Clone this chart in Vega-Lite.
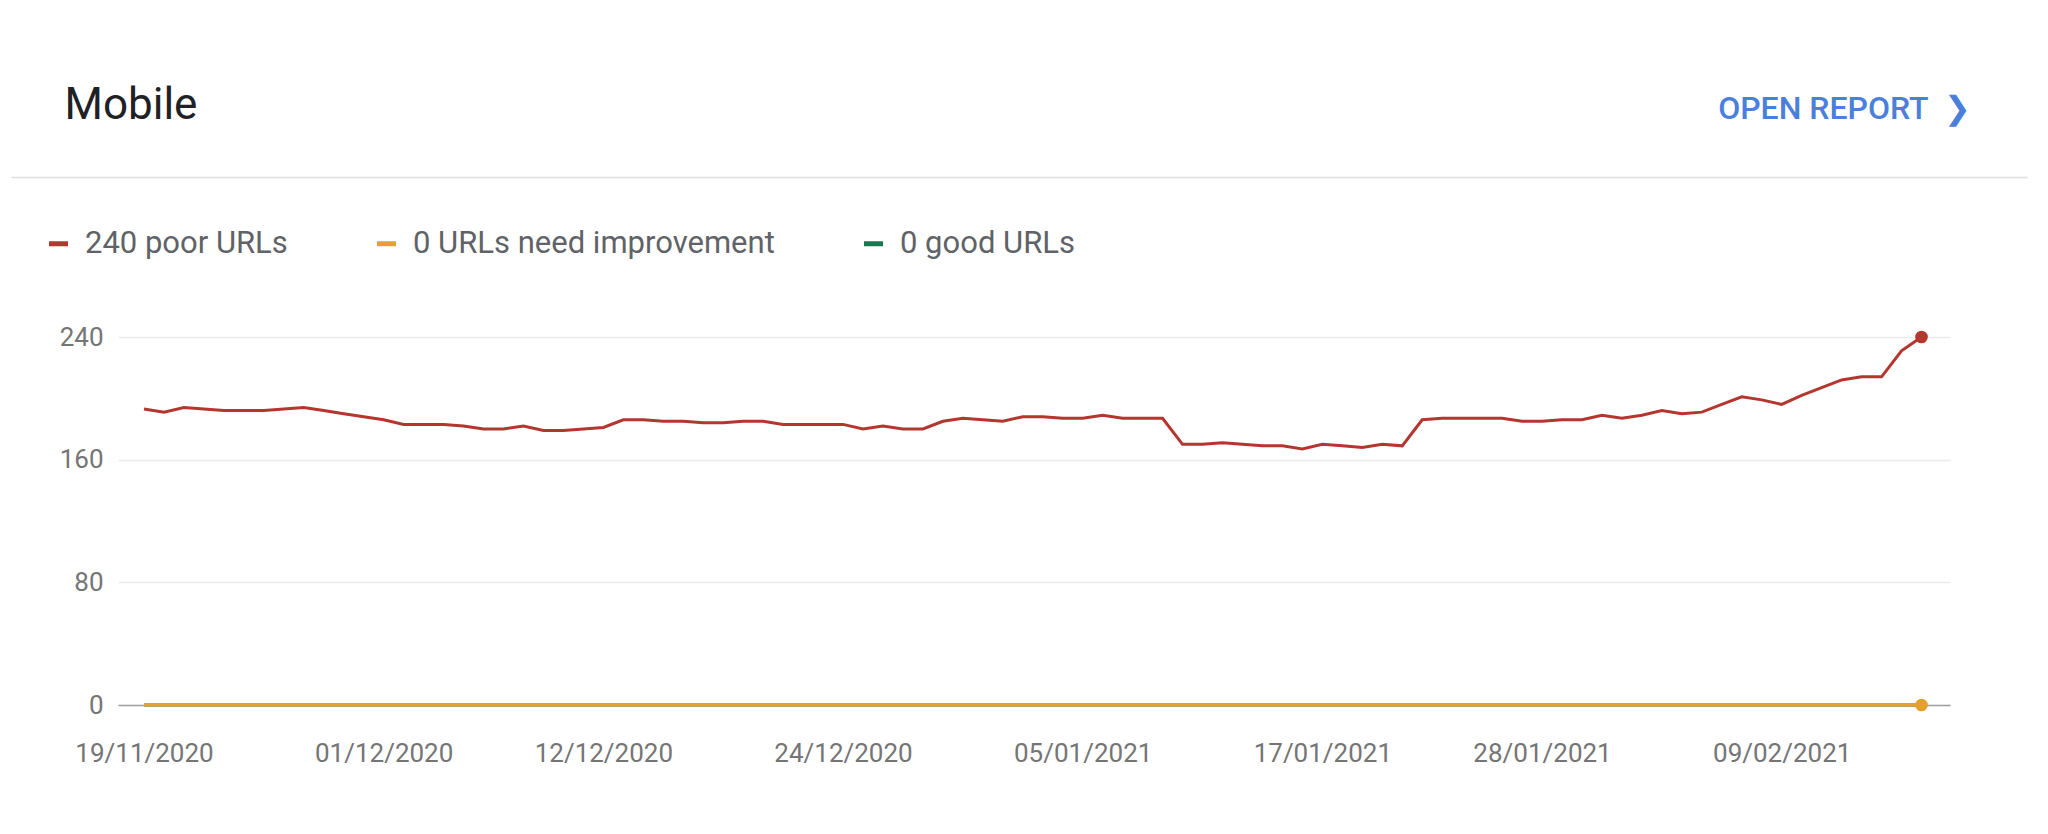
{
  "$schema": "https://vega.github.io/schema/vega-lite/v6.json",
  "background": "#ffffff",
  "padding": {"left": 43, "top": 83, "right": 0, "bottom": 20},
  "config": {"view": {"stroke": null}, "font": "Roboto"},
  "columns": 1,
  "align": "none",
  "spacing": 144,
  "concat": [
    {
      "width": 1909,
      "height": 1,
      "data": {"values": [{"a": 0, "b": 0}]},
      "mark": {"type": "point", "opacity": 0},
      "encoding": {
        "x": {
          "field": "a", "type": "quantitative",
          "scale": {"range": [-107, 1909]},
          "axis": {
            "orient": "bottom", "domain": true, "domainColor": "#e0e0e0", "domainWidth": 1.5,
            "ticks": false, "labels": false, "grid": false, "minExtent": 0,
            "title": "OPEN REPORT\u00a0\u00a0\u276f", "titleX": 1853, "titleY": -59,
            "titleAlign": "right", "titleBaseline": "alphabetic", "titleFontSize": 32,
            "titleFontWeight": 500, "titleColor": "#4a7fdc", "titleFont": "Roboto"
          }
        },
        "y": {
          "field": "b", "type": "quantitative",
          "axis": {
            "domain": false, "ticks": false, "labels": false, "grid": false, "minExtent": 0,
            "title": "Mobile", "titleAngle": 0, "titleX": -54, "titleY": -58,
            "titleAlign": "left", "titleBaseline": "alphabetic", "titleFontSize": 44,
            "titleFontWeight": 400, "titleColor": "#202124", "titleFont": "Roboto"
          }
        }
      }
    },
    {
      "width": 1832,
      "height": 368,
      "data": {"values": [
        {"date": "2020-11-19", "poor": 193, "needs_improvement": 0, "good": 0},
        {"date": "2020-11-20", "poor": 191, "needs_improvement": 0, "good": 0},
        {"date": "2020-11-21", "poor": 194, "needs_improvement": 0, "good": 0},
        {"date": "2020-11-22", "poor": 193, "needs_improvement": 0, "good": 0},
        {"date": "2020-11-23", "poor": 192, "needs_improvement": 0, "good": 0},
        {"date": "2020-11-24", "poor": 192, "needs_improvement": 0, "good": 0},
        {"date": "2020-11-25", "poor": 192, "needs_improvement": 0, "good": 0},
        {"date": "2020-11-26", "poor": 193, "needs_improvement": 0, "good": 0},
        {"date": "2020-11-27", "poor": 194, "needs_improvement": 0, "good": 0},
        {"date": "2020-11-28", "poor": 192, "needs_improvement": 0, "good": 0},
        {"date": "2020-11-29", "poor": 190, "needs_improvement": 0, "good": 0},
        {"date": "2020-11-30", "poor": 188, "needs_improvement": 0, "good": 0},
        {"date": "2020-12-01", "poor": 186, "needs_improvement": 0, "good": 0},
        {"date": "2020-12-02", "poor": 183, "needs_improvement": 0, "good": 0},
        {"date": "2020-12-03", "poor": 183, "needs_improvement": 0, "good": 0},
        {"date": "2020-12-04", "poor": 183, "needs_improvement": 0, "good": 0},
        {"date": "2020-12-05", "poor": 182, "needs_improvement": 0, "good": 0},
        {"date": "2020-12-06", "poor": 180, "needs_improvement": 0, "good": 0},
        {"date": "2020-12-07", "poor": 180, "needs_improvement": 0, "good": 0},
        {"date": "2020-12-08", "poor": 182, "needs_improvement": 0, "good": 0},
        {"date": "2020-12-09", "poor": 179, "needs_improvement": 0, "good": 0},
        {"date": "2020-12-10", "poor": 179, "needs_improvement": 0, "good": 0},
        {"date": "2020-12-11", "poor": 180, "needs_improvement": 0, "good": 0},
        {"date": "2020-12-12", "poor": 181, "needs_improvement": 0, "good": 0},
        {"date": "2020-12-13", "poor": 186, "needs_improvement": 0, "good": 0},
        {"date": "2020-12-14", "poor": 186, "needs_improvement": 0, "good": 0},
        {"date": "2020-12-15", "poor": 185, "needs_improvement": 0, "good": 0},
        {"date": "2020-12-16", "poor": 185, "needs_improvement": 0, "good": 0},
        {"date": "2020-12-17", "poor": 184, "needs_improvement": 0, "good": 0},
        {"date": "2020-12-18", "poor": 184, "needs_improvement": 0, "good": 0},
        {"date": "2020-12-19", "poor": 185, "needs_improvement": 0, "good": 0},
        {"date": "2020-12-20", "poor": 185, "needs_improvement": 0, "good": 0},
        {"date": "2020-12-21", "poor": 183, "needs_improvement": 0, "good": 0},
        {"date": "2020-12-22", "poor": 183, "needs_improvement": 0, "good": 0},
        {"date": "2020-12-23", "poor": 183, "needs_improvement": 0, "good": 0},
        {"date": "2020-12-24", "poor": 183, "needs_improvement": 0, "good": 0},
        {"date": "2020-12-25", "poor": 180, "needs_improvement": 0, "good": 0},
        {"date": "2020-12-26", "poor": 182, "needs_improvement": 0, "good": 0},
        {"date": "2020-12-27", "poor": 180, "needs_improvement": 0, "good": 0},
        {"date": "2020-12-28", "poor": 180, "needs_improvement": 0, "good": 0},
        {"date": "2020-12-29", "poor": 185, "needs_improvement": 0, "good": 0},
        {"date": "2020-12-30", "poor": 187, "needs_improvement": 0, "good": 0},
        {"date": "2020-12-31", "poor": 186, "needs_improvement": 0, "good": 0},
        {"date": "2021-01-01", "poor": 185, "needs_improvement": 0, "good": 0},
        {"date": "2021-01-02", "poor": 188, "needs_improvement": 0, "good": 0},
        {"date": "2021-01-03", "poor": 188, "needs_improvement": 0, "good": 0},
        {"date": "2021-01-04", "poor": 187, "needs_improvement": 0, "good": 0},
        {"date": "2021-01-05", "poor": 187, "needs_improvement": 0, "good": 0},
        {"date": "2021-01-06", "poor": 189, "needs_improvement": 0, "good": 0},
        {"date": "2021-01-07", "poor": 187, "needs_improvement": 0, "good": 0},
        {"date": "2021-01-08", "poor": 187, "needs_improvement": 0, "good": 0},
        {"date": "2021-01-09", "poor": 187, "needs_improvement": 0, "good": 0},
        {"date": "2021-01-10", "poor": 170, "needs_improvement": 0, "good": 0},
        {"date": "2021-01-11", "poor": 170, "needs_improvement": 0, "good": 0},
        {"date": "2021-01-12", "poor": 171, "needs_improvement": 0, "good": 0},
        {"date": "2021-01-13", "poor": 170, "needs_improvement": 0, "good": 0},
        {"date": "2021-01-14", "poor": 169, "needs_improvement": 0, "good": 0},
        {"date": "2021-01-15", "poor": 169, "needs_improvement": 0, "good": 0},
        {"date": "2021-01-16", "poor": 167, "needs_improvement": 0, "good": 0},
        {"date": "2021-01-17", "poor": 170, "needs_improvement": 0, "good": 0},
        {"date": "2021-01-18", "poor": 169, "needs_improvement": 0, "good": 0},
        {"date": "2021-01-19", "poor": 168, "needs_improvement": 0, "good": 0},
        {"date": "2021-01-20", "poor": 170, "needs_improvement": 0, "good": 0},
        {"date": "2021-01-21", "poor": 169, "needs_improvement": 0, "good": 0},
        {"date": "2021-01-22", "poor": 186, "needs_improvement": 0, "good": 0},
        {"date": "2021-01-23", "poor": 187, "needs_improvement": 0, "good": 0},
        {"date": "2021-01-24", "poor": 187, "needs_improvement": 0, "good": 0},
        {"date": "2021-01-25", "poor": 187, "needs_improvement": 0, "good": 0},
        {"date": "2021-01-26", "poor": 187, "needs_improvement": 0, "good": 0},
        {"date": "2021-01-27", "poor": 185, "needs_improvement": 0, "good": 0},
        {"date": "2021-01-28", "poor": 185, "needs_improvement": 0, "good": 0},
        {"date": "2021-01-29", "poor": 186, "needs_improvement": 0, "good": 0},
        {"date": "2021-01-30", "poor": 186, "needs_improvement": 0, "good": 0},
        {"date": "2021-01-31", "poor": 189, "needs_improvement": 0, "good": 0},
        {"date": "2021-02-01", "poor": 187, "needs_improvement": 0, "good": 0},
        {"date": "2021-02-02", "poor": 189, "needs_improvement": 0, "good": 0},
        {"date": "2021-02-03", "poor": 192, "needs_improvement": 0, "good": 0},
        {"date": "2021-02-04", "poor": 190, "needs_improvement": 0, "good": 0},
        {"date": "2021-02-05", "poor": 191, "needs_improvement": 0, "good": 0},
        {"date": "2021-02-06", "poor": 196, "needs_improvement": 0, "good": 0},
        {"date": "2021-02-07", "poor": 201, "needs_improvement": 0, "good": 0},
        {"date": "2021-02-08", "poor": 199, "needs_improvement": 0, "good": 0},
        {"date": "2021-02-09", "poor": 196, "needs_improvement": 0, "good": 0},
        {"date": "2021-02-10", "poor": 202, "needs_improvement": 0, "good": 0},
        {"date": "2021-02-11", "poor": 207, "needs_improvement": 0, "good": 0},
        {"date": "2021-02-12", "poor": 212, "needs_improvement": 0, "good": 0},
        {"date": "2021-02-13", "poor": 214, "needs_improvement": 0, "good": 0},
        {"date": "2021-02-14", "poor": 214, "needs_improvement": 0, "good": 0},
        {"date": "2021-02-15", "poor": 231, "needs_improvement": 0, "good": 0},
        {"date": "2021-02-16", "poor": 240, "needs_improvement": 0, "good": 0}
      ]},
      "transform": [{"fold": ["good", "needs_improvement", "poor"], "as": ["series", "value"]}],
      "encoding": {
        "x": {
          "field": "date", "type": "temporal",
          "scale": {
            "type": "utc",
            "domain": [
              {"year": 2020, "month": 11, "date": 17, "hours": 16, "minutes": 45, "utc": true},
              {"year": 2021, "month": 2, "date": 17, "hours": 10, "minutes": 15, "utc": true}
            ]
          },
          "axis": {
            "values": [
              {"year": 2020, "month": 11, "date": 19, "utc": true},
              {"year": 2020, "month": 12, "date": 1, "utc": true},
              {"year": 2020, "month": 12, "date": 12, "utc": true},
              {"year": 2020, "month": 12, "date": 24, "utc": true},
              {"year": 2021, "month": 1, "date": 5, "utc": true},
              {"year": 2021, "month": 1, "date": 17, "utc": true},
              {"year": 2021, "month": 1, "date": 28, "utc": true},
              {"year": 2021, "month": 2, "date": 9, "utc": true}
            ],
            "labelExpr": "utcFormat(datum.value, '%d/%m/%Y')",
            "domain": true, "domainColor": "#a0a0a0", "domainWidth": 1.5,
            "ticks": false, "grid": false, "zindex": 0,
            "labelFontSize": 26, "labelColor": "#757575", "labelFont": "Roboto",
            "labelPadding": 35, "labelFlush": false, "labelOverlap": false,
            "title": null
          }
        },
        "y": {
          "field": "value", "type": "quantitative",
          "scale": {"domain": [0, 240], "nice": false},
          "axis": {
            "values": [0, 80, 160, 240],
            "domain": false, "ticks": false, "grid": true,
            "gridColor": "#ebebeb", "gridWidth": 1.5,
            "labelFontSize": 26, "labelColor": "#757575", "labelFont": "Roboto",
            "labelPadding": 15, "title": null
          }
        },
        "color": {
          "field": "series", "type": "nominal",
          "scale": {
            "domain": ["poor", "needs_improvement", "good"],
            "range": ["#b5352f", "#e4a22b", "#18794e"]
          },
          "legend": {
            "orient": "none", "legendX": -75, "legendY": 52,
            "direction": "horizontal", "padding": 0, "title": null,
            "symbolType": "stroke", "symbolSize": 361, "symbolStrokeWidth": 5,
            "labelFontSize": 31, "labelColor": "#5f6368", "labelFont": "Roboto",
            "labelOffset": 11, "columnPadding": 79, "labelLimit": 0,
            "labelExpr": "datum.value == 'poor' ? '240 poor URLs' : datum.value == 'good' ? '0 good URLs' : '0 URLs need improvement'"
          }
        }
      },
      "layer": [
        {"mark": {"type": "line", "strokeWidth": 3, "interpolate": "linear"}},
        {
          "transform": [{"filter": "time(datum.date) == utc(2021, 1, 16) && datum.series != 'good'"}],
          "mark": {"type": "point", "filled": true, "size": 160, "opacity": 1}
        }
      ]
    }
  ]
}
